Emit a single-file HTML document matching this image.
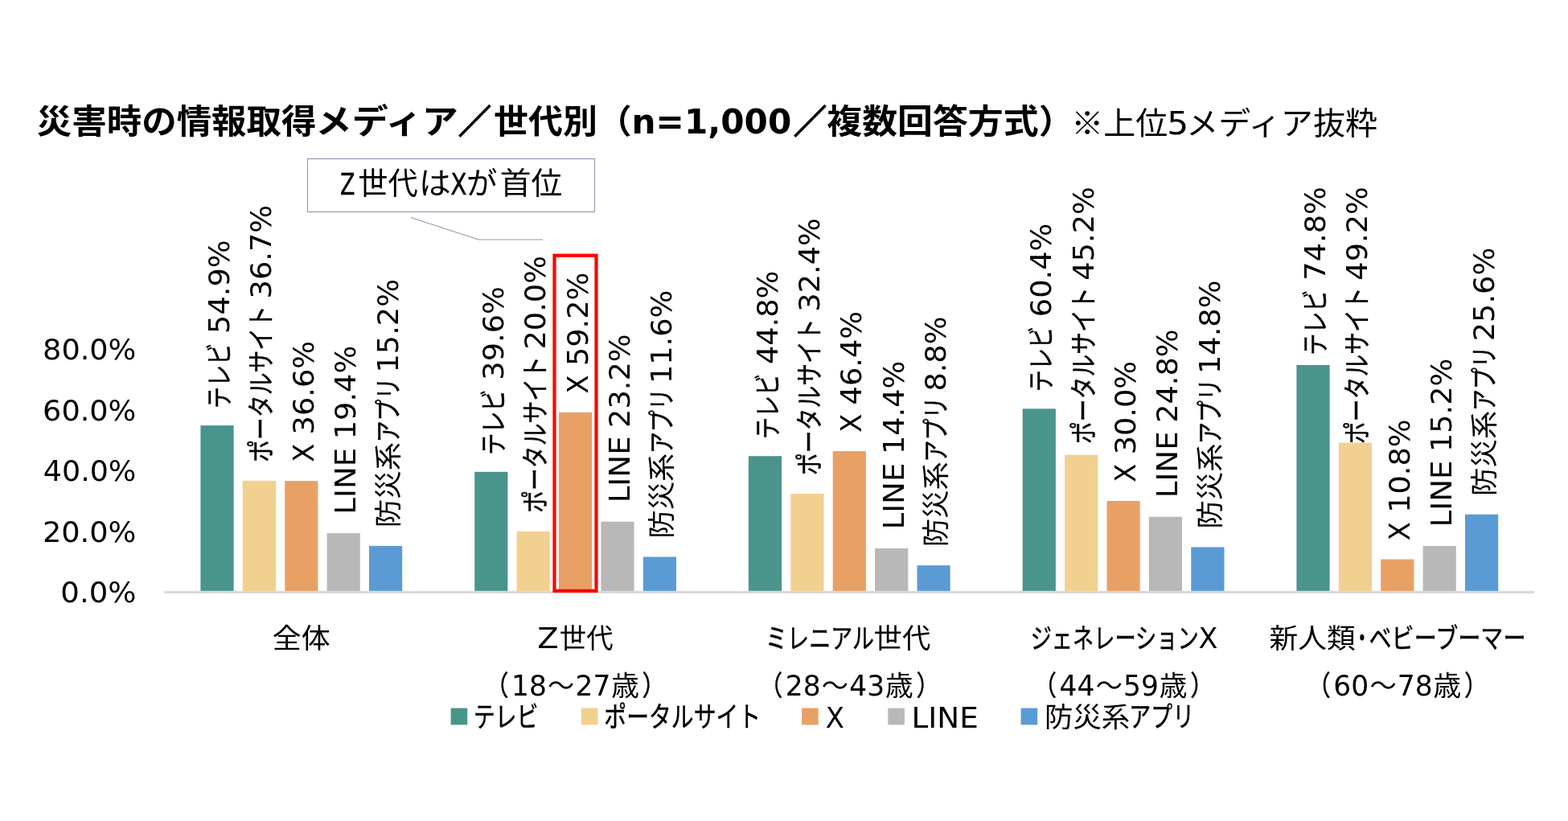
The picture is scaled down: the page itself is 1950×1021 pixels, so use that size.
<!DOCTYPE html>
<html lang="ja">
<head>
<meta charset="utf-8">
<title>災害時の情報取得メディア／世代別</title>
<style>
html,body{margin:0;padding:0;background:#fff;}
body{width:1950px;height:1021px;overflow:hidden;}
svg{display:block;}
text{fill:#000;white-space:pre;}
.c{font-family:'Liberation Sans','Noto Sans CJK JP',sans-serif;}
.l{font-family:'DejaVu Sans','Liberation Sans',sans-serif;}
.b{font-weight:bold;}
.k{stroke:#000;stroke-width:0.45px;stroke-linejoin:round;}
</style>
</head>
<body>
<svg width="1950" height="1021" viewBox="0 0 1950 1021">
<rect x="0" y="0" width="1950" height="1021" fill="#ffffff"/>
<g id="callout-box">
<rect x="382.5" y="197.5" width="357" height="66" fill="#fff" stroke="#8D97AB" stroke-width="1.1"/>
<polyline points="511,270.5 595,298 675,298" fill="none" stroke="#8D97AB" stroke-width="1.1"/>
</g>
<g id="bars">
<rect x="249.4" y="529.1" width="41.2" height="205.9" fill="#4A958B"/>
<rect x="301.8" y="597.8" width="41.2" height="137.2" fill="#F2D08F"/>
<rect x="354.2" y="598.1" width="41.2" height="136.9" fill="#E9A064"/>
<rect x="406.6" y="663.1" width="41.2" height="71.9" fill="#B8B8B8"/>
<rect x="459.0" y="678.9" width="41.2" height="56.1" fill="#5B9BD5"/>
<rect x="590.2" y="586.8" width="41.2" height="148.2" fill="#4A958B"/>
<rect x="642.6" y="660.8" width="41.2" height="74.2" fill="#F2D08F"/>
<rect x="695.0" y="512.8" width="41.2" height="222.2" fill="#E9A064"/>
<rect x="747.4" y="648.7" width="41.2" height="86.3" fill="#B8B8B8"/>
<rect x="799.8" y="692.5" width="41.2" height="42.5" fill="#5B9BD5"/>
<rect x="930.9" y="567.2" width="41.2" height="167.8" fill="#4A958B"/>
<rect x="983.3" y="614.0" width="41.2" height="121.0" fill="#F2D08F"/>
<rect x="1035.7" y="561.1" width="41.2" height="173.9" fill="#E9A064"/>
<rect x="1088.1" y="681.9" width="41.2" height="53.1" fill="#B8B8B8"/>
<rect x="1140.5" y="703.1" width="41.2" height="31.9" fill="#5B9BD5"/>
<rect x="1271.7" y="508.3" width="41.2" height="226.7" fill="#4A958B"/>
<rect x="1324.1" y="565.7" width="41.2" height="169.3" fill="#F2D08F"/>
<rect x="1376.5" y="623.0" width="41.2" height="112.0" fill="#E9A064"/>
<rect x="1428.9" y="642.7" width="41.2" height="92.3" fill="#B8B8B8"/>
<rect x="1481.3" y="680.4" width="41.2" height="54.6" fill="#5B9BD5"/>
<rect x="1612.4" y="453.9" width="41.2" height="281.1" fill="#4A958B"/>
<rect x="1664.8" y="550.6" width="41.2" height="184.4" fill="#F2D08F"/>
<rect x="1717.2" y="695.5" width="41.2" height="39.5" fill="#E9A064"/>
<rect x="1769.6" y="678.9" width="41.2" height="56.1" fill="#B8B8B8"/>
<rect x="1822.0" y="639.7" width="41.2" height="95.3" fill="#5B9BD5"/>
</g>
<rect id="axis" x="204.2" y="734.8" width="1703.8" height="3.2" fill="#D9D9D9"/>
<g id="legend-keys">
<rect x="560.6" y="880.6" width="20.6" height="20.8" fill="#4A958B"/>
<rect x="722.9" y="880.6" width="20.6" height="20.8" fill="#F2D08F"/>
<rect x="997.1" y="880.6" width="20.6" height="20.8" fill="#E9A064"/>
<rect x="1104.3" y="880.6" width="20.6" height="20.8" fill="#B8B8B8"/>
<rect x="1269.6" y="880.6" width="20.6" height="20.8" fill="#5B9BD5"/>
</g>
<g id="labels">
<text><tspan class="c b" x="45.8" y="166.4" font-size="41.5" textLength="347.74" lengthAdjust="spacingAndGlyphs">災害時の情報取得</tspan><tspan class="c b" x="392.59" y="166.4" font-size="41.5" textLength="177.2" lengthAdjust="spacingAndGlyphs">メディア</tspan><tspan class="c b" x="569.98" y="166.4" font-size="41.5" stroke="#000" stroke-width="1.5" textLength="40.84" lengthAdjust="spacingAndGlyphs">／</tspan><tspan class="c b" x="614" y="166.4" font-size="41.5" textLength="171.84" lengthAdjust="spacingAndGlyphs">世代別（</tspan><tspan class="l b" x="785.53" y="165.9" font-size="42.5" textLength="198.81" lengthAdjust="spacingAndGlyphs">n=1,000</tspan><tspan class="c b" x="987.08" y="166.4" font-size="41.5" stroke="#000" stroke-width="1.5" textLength="40.95" lengthAdjust="spacingAndGlyphs">／</tspan><tspan class="c b" x="1028.24" y="166.4" font-size="41.5" textLength="307.34" lengthAdjust="spacingAndGlyphs">複数回答方式）</tspan></text>
<text><tspan class="c" x="1332.3" y="166.8" font-size="38.6" textLength="119.89" lengthAdjust="spacingAndGlyphs">※上位</tspan><tspan class="l" x="1451.33" y="166.5" font-size="39" textLength="26.92" lengthAdjust="spacingAndGlyphs">5</tspan><tspan class="c" x="1475.24" y="166.8" font-size="38.6" textLength="237.95" lengthAdjust="spacingAndGlyphs">メディア抜粋</tspan></text>
<text><tspan class="l k" x="423.02" y="241.6" font-size="36.5" textLength="18.46" lengthAdjust="spacingAndGlyphs">Z</tspan><tspan class="c" x="445.33" y="240.5" font-size="37.6" textLength="74.4" lengthAdjust="spacingAndGlyphs">世代</tspan><tspan class="c" x="521.03" y="240.5" font-size="37.6" textLength="39.76" lengthAdjust="spacingAndGlyphs">は</tspan><tspan class="l k" x="560.25" y="241.6" font-size="36.5" textLength="20.44" lengthAdjust="spacingAndGlyphs">X</tspan><tspan class="c" x="580.1" y="240.5" font-size="37.6" textLength="38.36" lengthAdjust="spacingAndGlyphs">が</tspan><tspan class="c" x="621.86" y="240.5" font-size="37.6" textLength="77.49" lengthAdjust="spacingAndGlyphs">首位</tspan></text>
<text><tspan class="l" x="53.12" y="447" font-size="35.4" textLength="116.3" lengthAdjust="spacingAndGlyphs">80.0%</tspan></text>
<text><tspan class="l" x="53.12" y="522.5" font-size="35.4" textLength="116.3" lengthAdjust="spacingAndGlyphs">60.0%</tspan></text>
<text><tspan class="l" x="53.86" y="598" font-size="35.4" textLength="115.54" lengthAdjust="spacingAndGlyphs">40.0%</tspan></text>
<text><tspan class="l" x="52.93" y="673.5" font-size="35.4" textLength="116.49" lengthAdjust="spacingAndGlyphs">20.0%</tspan></text>
<text><tspan class="l" x="75.39" y="749" font-size="35.4" textLength="94.05" lengthAdjust="spacingAndGlyphs">0.0%</tspan></text>
<text><tspan class="c" x="338.84" y="806.3" font-size="34.4" textLength="71.96" lengthAdjust="spacingAndGlyphs">全体</tspan></text>
<text><tspan class="l" x="668.15" y="806.3" font-size="35.4" textLength="26.5" lengthAdjust="spacingAndGlyphs">Z</tspan><tspan class="c" x="695.8" y="806.3" font-size="34.4" textLength="66.74" lengthAdjust="spacingAndGlyphs">世代</tspan></text>
<text><tspan class="c k" x="603.59" y="865" font-size="34.4" textLength="29.06" lengthAdjust="spacingAndGlyphs">（</tspan><tspan class="l" x="636.04" y="865" font-size="35.4" textLength="43.9" lengthAdjust="spacingAndGlyphs">18</tspan><tspan class="c" x="681.11" y="865" font-size="34.4" textLength="33.26" lengthAdjust="spacingAndGlyphs">～</tspan><tspan class="l" x="715.44" y="865" font-size="35.4" textLength="43.9" lengthAdjust="spacingAndGlyphs">27</tspan><tspan class="c" x="760.2" y="865" font-size="34.4" textLength="34.65" lengthAdjust="spacingAndGlyphs">歳</tspan><tspan class="c k" x="798.62" y="865" font-size="34.4" textLength="29.23" lengthAdjust="spacingAndGlyphs">）</tspan></text>
<text><tspan class="c k" x="952.12" y="806.3" font-size="34.4" textLength="134.79" lengthAdjust="spacingAndGlyphs">ミレニアル</tspan><tspan class="c" x="1086.61" y="806.3" font-size="34.4" textLength="70.88" lengthAdjust="spacingAndGlyphs">世代</tspan></text>
<text><tspan class="c k" x="944.35" y="865" font-size="34.4" textLength="29.06" lengthAdjust="spacingAndGlyphs">（</tspan><tspan class="l" x="976.8" y="865" font-size="35.4" textLength="43.9" lengthAdjust="spacingAndGlyphs">28</tspan><tspan class="c" x="1021.87" y="865" font-size="34.4" textLength="33.26" lengthAdjust="spacingAndGlyphs">～</tspan><tspan class="l" x="1056.2" y="865" font-size="35.4" textLength="43.9" lengthAdjust="spacingAndGlyphs">43</tspan><tspan class="c" x="1100.96" y="865" font-size="34.4" textLength="34.65" lengthAdjust="spacingAndGlyphs">歳</tspan><tspan class="c k" x="1139.38" y="865" font-size="34.4" textLength="29.23" lengthAdjust="spacingAndGlyphs">）</tspan></text>
<text><tspan class="c k" x="1281.65" y="806.3" font-size="34.4" textLength="209.01" lengthAdjust="spacingAndGlyphs">ジェネレーション</tspan><tspan class="l" x="1490.43" y="806.3" font-size="35.4" textLength="23.92" lengthAdjust="spacingAndGlyphs">X</tspan></text>
<text><tspan class="c k" x="1285.11" y="865" font-size="34.4" textLength="29.06" lengthAdjust="spacingAndGlyphs">（</tspan><tspan class="l" x="1317.56" y="865" font-size="35.4" textLength="43.9" lengthAdjust="spacingAndGlyphs">44</tspan><tspan class="c" x="1362.63" y="865" font-size="34.4" textLength="33.26" lengthAdjust="spacingAndGlyphs">～</tspan><tspan class="l" x="1396.96" y="865" font-size="35.4" textLength="43.9" lengthAdjust="spacingAndGlyphs">59</tspan><tspan class="c" x="1441.72" y="865" font-size="34.4" textLength="34.65" lengthAdjust="spacingAndGlyphs">歳</tspan><tspan class="c k" x="1480.14" y="865" font-size="34.4" textLength="29.23" lengthAdjust="spacingAndGlyphs">）</tspan></text>
<text><tspan class="c" x="1578.61" y="806.3" font-size="34.4" textLength="107.11" lengthAdjust="spacingAndGlyphs">新人類</tspan><tspan class="c k" x="1682.44" y="806.3" font-size="34.4" textLength="22.73" lengthAdjust="spacingAndGlyphs">・</tspan><tspan class="c k" x="1702.51" y="806.3" font-size="34.4" textLength="195.08" lengthAdjust="spacingAndGlyphs">ベビーブーマー</tspan></text>
<text><tspan class="c k" x="1625.87" y="865" font-size="34.4" textLength="29.06" lengthAdjust="spacingAndGlyphs">（</tspan><tspan class="l" x="1658.32" y="865" font-size="35.4" textLength="43.9" lengthAdjust="spacingAndGlyphs">60</tspan><tspan class="c" x="1703.39" y="865" font-size="34.4" textLength="33.26" lengthAdjust="spacingAndGlyphs">～</tspan><tspan class="l" x="1737.72" y="865" font-size="35.4" textLength="43.9" lengthAdjust="spacingAndGlyphs">78</tspan><tspan class="c" x="1782.48" y="865" font-size="34.4" textLength="34.65" lengthAdjust="spacingAndGlyphs">歳</tspan><tspan class="c k" x="1820.9" y="865" font-size="34.4" textLength="29.23" lengthAdjust="spacingAndGlyphs">）</tspan></text>
<text><tspan class="c k" x="589.09" y="903.8" font-size="35.2" textLength="80.32" lengthAdjust="spacingAndGlyphs">テレビ</tspan></text>
<text><tspan class="c k" x="751.33" y="903.8" font-size="35.2" textLength="194.85" lengthAdjust="spacingAndGlyphs">ポータルサイト</tspan></text>
<text><tspan class="l" x="1026.85" y="904.6" font-size="35.4" textLength="23.16" lengthAdjust="spacingAndGlyphs">X</tspan></text>
<text><tspan class="l" x="1133.46" y="904.6" font-size="35.4" textLength="83.25" lengthAdjust="spacingAndGlyphs">LINE</tspan></text>
<text><tspan class="c" x="1298.97" y="903.6" font-size="34.4" textLength="106.25" lengthAdjust="spacingAndGlyphs">防災系</tspan><tspan class="c k" x="1404.16" y="904" font-size="35.2" textLength="80.98" lengthAdjust="spacingAndGlyphs">アプリ</tspan></text>
<text transform="translate(285,529.05) rotate(-90)"><tspan class="c k" x="21.16" y="0" font-size="34.4" textLength="81.27" lengthAdjust="spacingAndGlyphs">テレビ</tspan> <tspan class="l" x="114.15" y="0" font-size="35.4" textLength="116.47" lengthAdjust="spacingAndGlyphs">54.9%</tspan></text>
<text transform="translate(337.4,597.76) rotate(-90)"><tspan class="c k" x="23.03" y="0" font-size="34.4" textLength="194.74" lengthAdjust="spacingAndGlyphs">ポータルサイト</tspan> <tspan class="l" x="226.35" y="0" font-size="35.4" textLength="116.47" lengthAdjust="spacingAndGlyphs">36.7%</tspan></text>
<text transform="translate(389.8,598.13) rotate(-90)"><tspan class="l" x="23.35" y="0" font-size="35.4" textLength="23.16" lengthAdjust="spacingAndGlyphs">X</tspan> <tspan class="l" x="57.75" y="0" font-size="35.4" textLength="116.47" lengthAdjust="spacingAndGlyphs">36.6%</tspan></text>
<text transform="translate(442.2,663.06) rotate(-90)"><tspan class="l" x="23.37" y="0" font-size="35.4" textLength="83.03" lengthAdjust="spacingAndGlyphs">LINE</tspan> <tspan class="l" x="116.85" y="0" font-size="35.4" textLength="116.47" lengthAdjust="spacingAndGlyphs">19.4%</tspan></text>
<text transform="translate(494.6,678.92) rotate(-90)"><tspan class="c" x="22.77" y="0" font-size="34.4" textLength="106.25" lengthAdjust="spacingAndGlyphs">防災系</tspan><tspan class="c k" x="128.56" y="0" font-size="34.4" textLength="80.98" lengthAdjust="spacingAndGlyphs">アプリ</tspan> <tspan class="l" x="215.45" y="0" font-size="35.4" textLength="116.47" lengthAdjust="spacingAndGlyphs">15.2%</tspan></text>
<text transform="translate(625.76,586.81) rotate(-90)"><tspan class="c k" x="21.16" y="0" font-size="34.4" textLength="81.27" lengthAdjust="spacingAndGlyphs">テレビ</tspan> <tspan class="l" x="114.15" y="0" font-size="35.4" textLength="116.47" lengthAdjust="spacingAndGlyphs">39.6%</tspan></text>
<text transform="translate(678.16,660.8) rotate(-90)"><tspan class="c k" x="23.03" y="0" font-size="34.4" textLength="194.74" lengthAdjust="spacingAndGlyphs">ポータルサイト</tspan> <tspan class="l" x="226.35" y="0" font-size="35.4" textLength="116.47" lengthAdjust="spacingAndGlyphs">20.0%</tspan></text>
<text transform="translate(730.56,512.82) rotate(-90)"><tspan class="l" x="23.35" y="0" font-size="35.4" textLength="23.16" lengthAdjust="spacingAndGlyphs">X</tspan> <tspan class="l" x="57.75" y="0" font-size="35.4" textLength="116.47" lengthAdjust="spacingAndGlyphs">59.2%</tspan></text>
<text transform="translate(782.96,648.72) rotate(-90)"><tspan class="l" x="23.37" y="0" font-size="35.4" textLength="83.03" lengthAdjust="spacingAndGlyphs">LINE</tspan> <tspan class="l" x="116.85" y="0" font-size="35.4" textLength="116.47" lengthAdjust="spacingAndGlyphs">23.2%</tspan></text>
<text transform="translate(835.36,692.51) rotate(-90)"><tspan class="c" x="22.77" y="0" font-size="34.4" textLength="106.25" lengthAdjust="spacingAndGlyphs">防災系</tspan><tspan class="c k" x="128.56" y="0" font-size="34.4" textLength="80.98" lengthAdjust="spacingAndGlyphs">アプリ</tspan> <tspan class="l" x="215.45" y="0" font-size="35.4" textLength="116.47" lengthAdjust="spacingAndGlyphs">11.6%</tspan></text>
<text transform="translate(966.52,567.18) rotate(-90)"><tspan class="c k" x="21.16" y="0" font-size="34.4" textLength="81.27" lengthAdjust="spacingAndGlyphs">テレビ</tspan> <tspan class="l" x="114.15" y="0" font-size="35.4" textLength="116.47" lengthAdjust="spacingAndGlyphs">44.8%</tspan></text>
<text transform="translate(1018.92,613.99) rotate(-90)"><tspan class="c k" x="23.03" y="0" font-size="34.4" textLength="194.74" lengthAdjust="spacingAndGlyphs">ポータルサイト</tspan> <tspan class="l" x="226.35" y="0" font-size="35.4" textLength="116.47" lengthAdjust="spacingAndGlyphs">32.4%</tspan></text>
<text transform="translate(1071.32,561.14) rotate(-90)"><tspan class="l" x="23.35" y="0" font-size="35.4" textLength="23.16" lengthAdjust="spacingAndGlyphs">X</tspan> <tspan class="l" x="57.75" y="0" font-size="35.4" textLength="116.47" lengthAdjust="spacingAndGlyphs">46.4%</tspan></text>
<text transform="translate(1123.72,681.94) rotate(-90)"><tspan class="l" x="23.37" y="0" font-size="35.4" textLength="83.03" lengthAdjust="spacingAndGlyphs">LINE</tspan> <tspan class="l" x="116.85" y="0" font-size="35.4" textLength="116.47" lengthAdjust="spacingAndGlyphs">14.4%</tspan></text>
<text transform="translate(1176.12,703.08) rotate(-90)"><tspan class="c" x="22.77" y="0" font-size="34.4" textLength="106.25" lengthAdjust="spacingAndGlyphs">防災系</tspan><tspan class="c k" x="128.56" y="0" font-size="34.4" textLength="80.98" lengthAdjust="spacingAndGlyphs">アプリ</tspan> <tspan class="l" x="216.48" y="0" font-size="35.4" textLength="93.15" lengthAdjust="spacingAndGlyphs">8.8%</tspan></text>
<text transform="translate(1307.28,508.29) rotate(-90)"><tspan class="c k" x="21.16" y="0" font-size="34.4" textLength="81.27" lengthAdjust="spacingAndGlyphs">テレビ</tspan> <tspan class="l" x="114.15" y="0" font-size="35.4" textLength="116.47" lengthAdjust="spacingAndGlyphs">60.4%</tspan></text>
<text transform="translate(1359.68,575) rotate(-90)"><tspan class="c k" x="23.03" y="0" font-size="34.4" textLength="194.74" lengthAdjust="spacingAndGlyphs">ポータルサイト</tspan> <tspan class="l" x="226.35" y="0" font-size="35.4" textLength="116.47" lengthAdjust="spacingAndGlyphs">45.2%</tspan></text>
<text transform="translate(1412.08,623.05) rotate(-90)"><tspan class="l" x="23.35" y="0" font-size="35.4" textLength="23.16" lengthAdjust="spacingAndGlyphs">X</tspan> <tspan class="l" x="57.75" y="0" font-size="35.4" textLength="116.47" lengthAdjust="spacingAndGlyphs">30.0%</tspan></text>
<text transform="translate(1464.48,642.68) rotate(-90)"><tspan class="l" x="23.37" y="0" font-size="35.4" textLength="83.03" lengthAdjust="spacingAndGlyphs">LINE</tspan> <tspan class="l" x="116.85" y="0" font-size="35.4" textLength="116.47" lengthAdjust="spacingAndGlyphs">24.8%</tspan></text>
<text transform="translate(1516.88,680.43) rotate(-90)"><tspan class="c" x="22.77" y="0" font-size="34.4" textLength="106.25" lengthAdjust="spacingAndGlyphs">防災系</tspan><tspan class="c k" x="128.56" y="0" font-size="34.4" textLength="80.98" lengthAdjust="spacingAndGlyphs">アプリ</tspan> <tspan class="l" x="215.45" y="0" font-size="35.4" textLength="116.47" lengthAdjust="spacingAndGlyphs">14.8%</tspan></text>
<text transform="translate(1648.04,462.8) rotate(-90)"><tspan class="c k" x="21.16" y="0" font-size="34.4" textLength="81.27" lengthAdjust="spacingAndGlyphs">テレビ</tspan> <tspan class="l" x="114.15" y="0" font-size="35.4" textLength="116.47" lengthAdjust="spacingAndGlyphs">74.8%</tspan></text>
<text transform="translate(1700.44,575) rotate(-90)"><tspan class="c k" x="23.03" y="0" font-size="34.4" textLength="194.74" lengthAdjust="spacingAndGlyphs">ポータルサイト</tspan> <tspan class="l" x="226.35" y="0" font-size="35.4" textLength="116.47" lengthAdjust="spacingAndGlyphs">49.2%</tspan></text>
<text transform="translate(1752.84,695.53) rotate(-90)"><tspan class="l" x="23.35" y="0" font-size="35.4" textLength="23.16" lengthAdjust="spacingAndGlyphs">X</tspan> <tspan class="l" x="57.75" y="0" font-size="35.4" textLength="116.47" lengthAdjust="spacingAndGlyphs">10.8%</tspan></text>
<text transform="translate(1805.24,678.92) rotate(-90)"><tspan class="l" x="23.37" y="0" font-size="35.4" textLength="83.03" lengthAdjust="spacingAndGlyphs">LINE</tspan> <tspan class="l" x="116.85" y="0" font-size="35.4" textLength="116.47" lengthAdjust="spacingAndGlyphs">15.2%</tspan></text>
<text transform="translate(1857.64,639.66) rotate(-90)"><tspan class="c" x="22.77" y="0" font-size="34.4" textLength="106.25" lengthAdjust="spacingAndGlyphs">防災系</tspan><tspan class="c k" x="128.56" y="0" font-size="34.4" textLength="80.98" lengthAdjust="spacingAndGlyphs">アプリ</tspan> <tspan class="l" x="215.45" y="0" font-size="35.4" textLength="116.47" lengthAdjust="spacingAndGlyphs">25.6%</tspan></text>
</g>
<rect id="highlight" x="689.5" y="317.7" width="52" height="417.1" fill="none" stroke="#FF0000" stroke-width="4.2"/>
</svg>
</body>
</html>
